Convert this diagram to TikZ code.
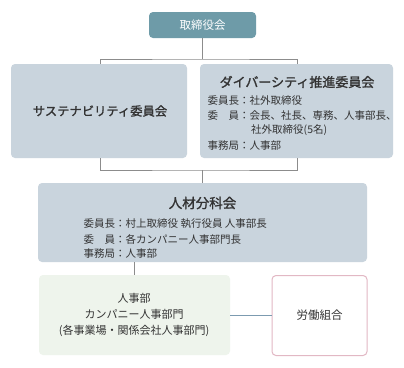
\documentclass[tikz,border=0pt]{standalone}
\usepackage{fontspec}
\setmainfont{Noto Sans CJK JP}
\newfontfamily\jpbold{Noto Sans CJK JP}[FakeBold=1.5]
\definecolor{topfill}{HTML}{6E9BA8}
\definecolor{greyfill}{HTML}{C9D4DD}
\definecolor{greenfill}{HTML}{EEF4EC}
\definecolor{pinkline}{HTML}{E2B8C4}
\definecolor{linkgrey}{HTML}{8C8C8C}
\definecolor{linkblue}{HTML}{7C9BB0}
\definecolor{txt}{HTML}{333333}
\begin{document}
\begin{tikzpicture}[x=1pt,y=-1pt,
  box/.style={rounded corners=4pt,inner sep=0pt},
  link/.style={draw=linkgrey,line width=0.9pt},
  line/.style={anchor=west,inner sep=0pt,font=\fontsize{10.5}{12}\selectfont,text=txt},
  title/.style={inner sep=0pt,text=txt}]
\useasboundingbox[fill=white] (0,0) rectangle (404,367);
% boxes
\fill[topfill,rounded corners=4pt] (149,12) rectangle (256,38);
\node[inner sep=0pt,text=white,font=\fontsize{11.5}{13}\selectfont] (top) at (202.5,25) {取締役会};
\coordinate (topb) at (202.5,38);
\fill[greyfill,rounded corners=4pt] (11,64) rectangle (187,158);
\fill[greyfill,rounded corners=4pt] (200,64) rectangle (393,158);
\fill[greyfill,rounded corners=4pt] (38,183) rectangle (367,262);
\fill[greenfill,rounded corners=4pt] (39,275) rectangle (230,355);
\draw[pinkline,line width=1pt,fill=white,rounded corners=4pt] (272,275.5) rectangle (367,355.5);
% coordinates for connectors
\coordinate (sust) at (100,64);
\coordinate (divt) at (297,64);
\coordinate (sustb) at (100,158);
\coordinate (divb) at (297,158);
\coordinate (jint) at (202.5,183);
\coordinate (jinb) at (134,262);
\coordinate (hrt) at (134,275);
\coordinate (hrr) at (230,315);
\coordinate (unl) at (272,315);
% connectors
\draw[link] (topb) -- (202.5,59) coordinate (j1);
\draw[link] (sust) |- (j1) -| (divt);
\draw[link] (sustb) |- (202.5,170) coordinate (j2) -| (divb);
\draw[link] (j2) -- (jint);
\draw[link] (jinb) -- (hrt);
\draw[draw=linkblue,line width=0.9pt] (hrr) -- (unl);
% texts
\node[title,font=\jpbold\fontsize{12.3}{14}\selectfont] (sustt) at (100,111) {サステナビリティ委員会};
\node[title,font=\jpbold\fontsize{13}{15}\selectfont] (divtt) at (297,82) {ダイバーシティ推進委員会};
\node[line] (d1) at (207.5,101) {委員長：社外取締役};
\node[line] (d2) at (207.5,116) {委　員：会長、社長、専務、人事部長、};
\node[line] (d3) at (251,130.5) {社外取締役(5名)};
\node[line] (d4) at (207.5,146) {事務局：人事部};
\node[title,font=\jpbold\fontsize{13.5}{15}\selectfont] (jint2) at (202.5,203) {人材分科会};
\node[line] (j1t) at (83.5,224) {委員長：村上取締役 執行役員 人事部長};
\node[line] (j2t) at (83.5,239) {委　員：各カンパニー人事部門長};
\node[line] (j3t) at (83.5,254) {事務局：人事部};
\node[title,font=\fontsize{11}{16}\selectfont,align=center] (hr) at (134,315) {人事部\\カンパニー人事部門\\(各事業場・関係会社人事部門)};
\node[title,font=\fontsize{11.5}{13}\selectfont] (union) at (319.5,315) {労働組合};
\end{tikzpicture}
\end{document}
